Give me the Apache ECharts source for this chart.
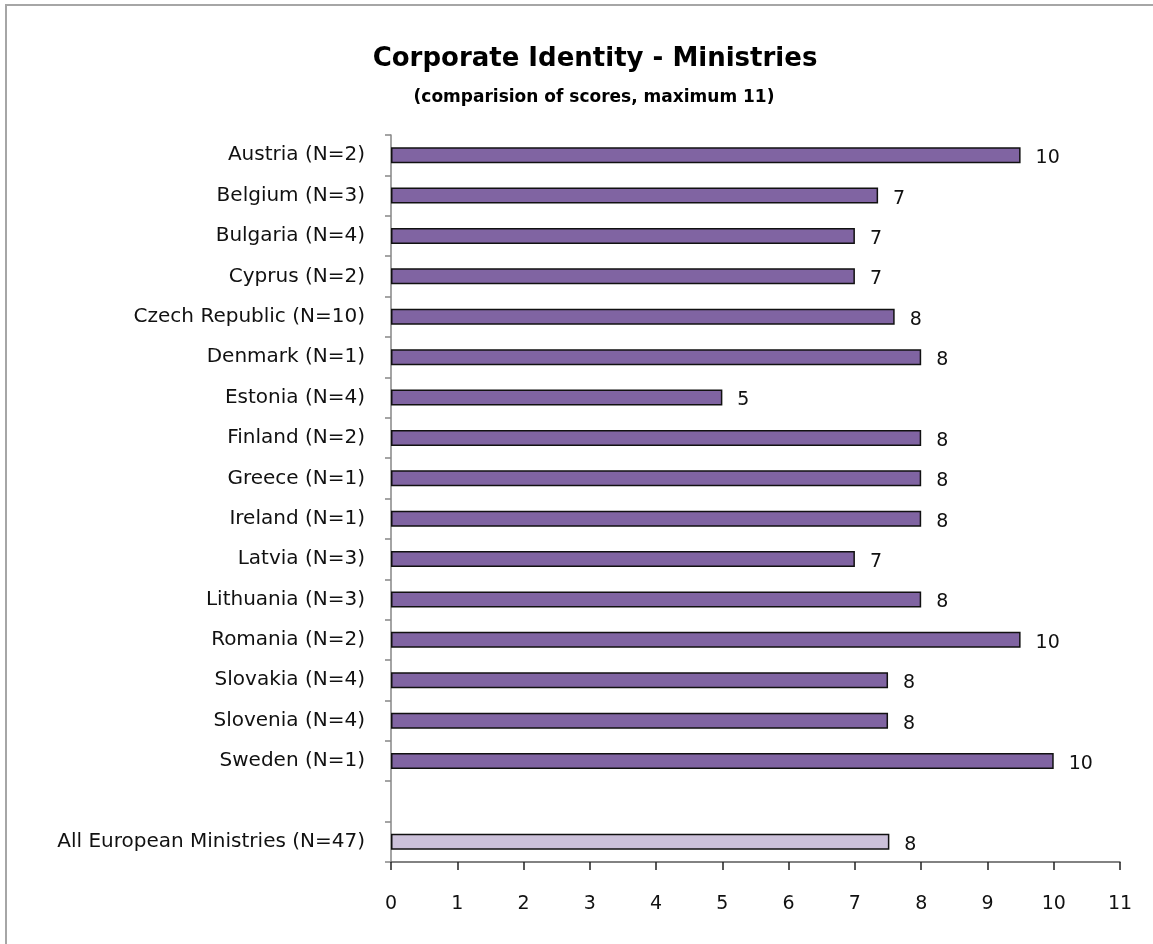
<!DOCTYPE html>
<html>
<head>
<meta charset="utf-8">
<script src="https://cdn.jsdelivr.net/npm/echarts@6/dist/echarts.min.js"></script>
<style>
html,body{margin:0;padding:0;background:#fff;}
#chart{width:1153px;height:944px;}
</style>
</head>
<body>
<div id="chart"></div>
<script>
const categories = [
  "Austria (N=2)", "Belgium (N=3)", "Bulgaria (N=4)", "Cyprus (N=2)",
  "Czech Republic (N=10)", "Denmark (N=1)", "Estonia (N=4)", "Finland (N=2)",
  "Greece (N=1)", "Ireland (N=1)", "Latvia (N=3)", "Lithuania (N=3)",
  "Romania (N=2)", "Slovakia (N=4)", "Slovenia (N=4)", "Sweden (N=1)",
  "", "All European Ministries (N=47)"
];
const scores = [9.5, 7.35, 7.0, 7.0, 7.6, 8.0, 5.0, 8.0, 8.0, 8.0, 7.0, 8.0, 9.5, 7.5, 7.5, 10.0, null, 7.52];
const highlightIndex = 17;
const xTicks = [0, 1, 2, 3, 4, 5, 6, 7, 8, 9, 10, 11];

const FONT = '"DejaVu Sans", sans-serif';
const chart = echarts.init(document.getElementById('chart'));
const data = scores.map((v, i) => (v === null ? '-' : {
  value: v,
  itemStyle: { color: i === highlightIndex ? '#CCC1DA' : '#8064A2' }
}));

chart.setOption({
  animation: false,
  backgroundColor: '#ffffff',
  graphic: [{
    type: 'rect', silent: true, z: -1,
    shape: { x: 6, y: 5, width: 1300, height: 1100 },
    style: { fill: 'none', stroke: '#a6a6a6', lineWidth: 2 }
  }],
  title: [{
    text: 'Corporate Identity - Ministries',
    left: 590, top: 41, textAlign: 'center',
    textStyle: { fontFamily: FONT, fontWeight: 'bold', fontSize: 26, color: '#000' }
  }, {
    text: '(comparision of scores, maximum 11)',
    left: 589, top: 84, textAlign: 'center',
    textStyle: { fontFamily: FONT, fontWeight: 'bold', fontSize: 17, color: '#000' }
  }],
  grid: { left: 391, right: 33, top: 135, bottom: 82, containLabel: false },
  xAxis: {
    type: 'value', min: 0, max: 11, interval: 1,
    axisLine: { show: true, lineStyle: { color: '#5a5a5a', width: 1.5 } },
    axisTick: { show: true, length: 8, inside: false, lineStyle: { color: '#222', width: 1.5 } },
    splitLine: { show: false },
    axisLabel: {
      margin: 33, fontFamily: FONT, fontSize: 19, color: '#111',
      formatter: v => xTicks.includes(v) ? String(v) : ''
    }
  },
  yAxis: {
    type: 'category', data: categories, inverse: true,
    axisLine: { show: true, lineStyle: { color: '#868686', width: 1.5 } },
    axisTick: { show: true, length: 6, alignWithLabel: false, lineStyle: { color: '#868686', width: 1.5 } },
    axisLabel: { margin: 26, fontFamily: FONT, fontSize: 20, color: '#111' }
  },
  series: [{
    type: 'bar',
    data: data,
    barWidth: 16,
    itemStyle: { borderColor: '#111', borderWidth: 1.5 },
    label: {
      show: true, position: 'right', distance: 15,
      fontFamily: FONT, fontSize: 19, color: '#111',
      offset: [0, 3],
      formatter: p => String(Math.round(p.value))
    }
  }]
});
</script>
</body>
</html>
